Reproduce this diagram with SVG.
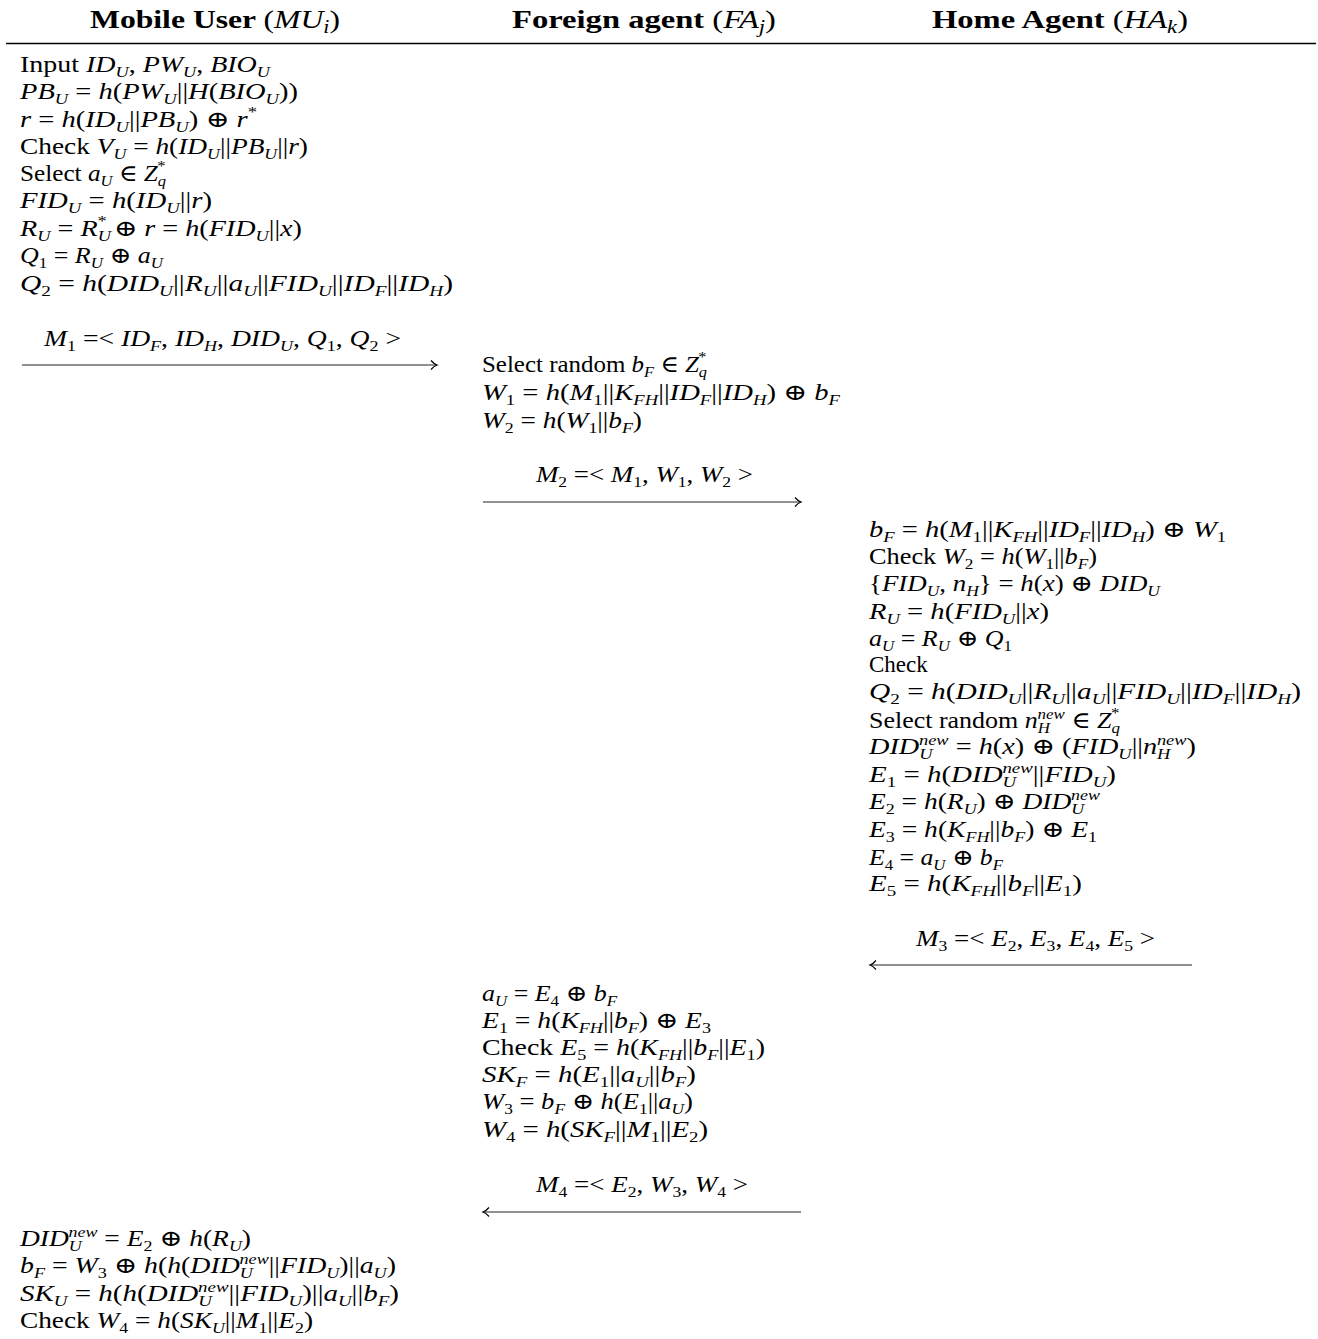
<svg xmlns="http://www.w3.org/2000/svg" width="1318" height="1339" viewBox="0 0 1318 1339">
<defs>
<style>
text{font-family:"Liberation Serif","DejaVu Serif",serif;font-size:23px;fill:#000}
.h{font-weight:bold;font-size:26px}
.hn{font-weight:normal}
.hv{font-weight:normal;font-style:italic}
.hb{font-weight:normal;font-style:italic;font-size:18px;baseline-shift:-5px}
.v{font-style:italic}
.b{font-style:italic;font-size:15px;baseline-shift:-5px}
.n{font-size:15px;baseline-shift:-5px}
.p{font-style:italic;font-size:15px;baseline-shift:9px}
.ps{font-size:15px;baseline-shift:10px}
.conn line{stroke:#222;stroke-width:1.2}
</style>
<marker id="ah" markerWidth="12" markerHeight="12" refX="9" refY="6" orient="auto" markerUnits="userSpaceOnUse">
<path d="M3,1.5 Q6,5 9,6 Q6,7 3,10.5" fill="none" stroke="#000" stroke-width="1.2"/>
</marker>
</defs>
<rect width="1318" height="1339" fill="#fff"/>

<g id="header">
<text class="h" x="215" y="28" text-anchor="middle" textLength="250" lengthAdjust="spacingAndGlyphs">Mobile User <tspan class="hn">(</tspan><tspan class="hv">MU</tspan><tspan class="hb">i</tspan><tspan class="hn">)</tspan></text>
<text class="h" x="644" y="28" text-anchor="middle" textLength="264" lengthAdjust="spacingAndGlyphs">Foreign agent <tspan class="hn">(</tspan><tspan class="hv">FA</tspan><tspan class="hb">j</tspan><tspan class="hn">)</tspan></text>
<text class="h" x="1060" y="28" text-anchor="middle" textLength="256" lengthAdjust="spacingAndGlyphs">Home Agent <tspan class="hn">(</tspan><tspan class="hv">HA</tspan><tspan class="hb">k</tspan><tspan class="hn">)</tspan></text>
<line x1="6" y1="43.5" x2="1316" y2="43.5" stroke="#000" stroke-width="1.3"/>
</g>

<g id="mu-step1">
<text x="20" y="72" textLength="250" lengthAdjust="spacingAndGlyphs">Input <tspan class="v">ID</tspan><tspan class="b">U</tspan>, <tspan class="v">PW</tspan><tspan class="b">U</tspan>, <tspan class="v">BIO</tspan><tspan class="b">U</tspan></text>
<text x="20" y="99" textLength="278" lengthAdjust="spacingAndGlyphs"><tspan class="v">PB</tspan><tspan class="b">U</tspan> = <tspan class="v">h</tspan>(<tspan class="v">PW</tspan><tspan class="b">U</tspan>||<tspan class="v">H</tspan>(<tspan class="v">BIO</tspan><tspan class="b">U</tspan>))</text>
<text x="20" y="127" textLength="237" lengthAdjust="spacingAndGlyphs"><tspan class="v">r</tspan> = <tspan class="v">h</tspan>(<tspan class="v">ID</tspan><tspan class="b">U</tspan>||<tspan class="v">PB</tspan><tspan class="b">U</tspan>) ⊕ <tspan class="v">r</tspan><tspan class="ps">*</tspan></text>
<text x="20" y="154" textLength="288" lengthAdjust="spacingAndGlyphs">Check <tspan class="v">V</tspan><tspan class="b">U</tspan> = <tspan class="v">h</tspan>(<tspan class="v">ID</tspan><tspan class="b">U</tspan>||<tspan class="v">PB</tspan><tspan class="b">U</tspan>||<tspan class="v">r</tspan>)</text>
<text x="20" y="181" textLength="146" lengthAdjust="spacingAndGlyphs">Select <tspan class="v">a</tspan><tspan class="b">U</tspan> ∈ <tspan class="v">Z</tspan><tspan class="b">q</tspan><tspan class="ps" dx="-8">*</tspan></text>
<text x="20" y="208" textLength="192" lengthAdjust="spacingAndGlyphs"><tspan class="v">FID</tspan><tspan class="b">U</tspan> = <tspan class="v">h</tspan>(<tspan class="v">ID</tspan><tspan class="b">U</tspan>||<tspan class="v">r</tspan>)</text>
<text x="20" y="236" textLength="282" lengthAdjust="spacingAndGlyphs"><tspan class="v">R</tspan><tspan class="b">U</tspan> = <tspan class="v">R</tspan><tspan class="b">U</tspan><tspan class="ps" dx="-11">*</tspan> ⊕ <tspan class="v">r</tspan> = <tspan class="v">h</tspan>(<tspan class="v">FID</tspan><tspan class="b">U</tspan>||<tspan class="v">x</tspan>)</text>
<text x="20" y="263" textLength="143" lengthAdjust="spacingAndGlyphs"><tspan class="v">Q</tspan><tspan class="n">1</tspan> = <tspan class="v">R</tspan><tspan class="b">U</tspan> ⊕ <tspan class="v">a</tspan><tspan class="b">U</tspan></text>
<text x="20" y="291" textLength="433" lengthAdjust="spacingAndGlyphs"><tspan class="v">Q</tspan><tspan class="n">2</tspan> = <tspan class="v">h</tspan>(<tspan class="v">DID</tspan><tspan class="b">U</tspan>||<tspan class="v">R</tspan><tspan class="b">U</tspan>||<tspan class="v">a</tspan><tspan class="b">U</tspan>||<tspan class="v">FID</tspan><tspan class="b">U</tspan>||<tspan class="v">ID</tspan><tspan class="b">F</tspan>||<tspan class="v">ID</tspan><tspan class="b">H</tspan>)</text>
</g>

<g id="fa-step1">
<text x="482" y="372" textLength="225" lengthAdjust="spacingAndGlyphs">Select random <tspan class="v">b</tspan><tspan class="b">F</tspan> ∈ <tspan class="v">Z</tspan><tspan class="b">q</tspan><tspan class="ps" dx="-8">*</tspan></text>
<text x="482" y="400" textLength="358" lengthAdjust="spacingAndGlyphs"><tspan class="v">W</tspan><tspan class="n">1</tspan> = <tspan class="v">h</tspan>(<tspan class="v">M</tspan><tspan class="n">1</tspan>||<tspan class="v">K</tspan><tspan class="b">FH</tspan>||<tspan class="v">ID</tspan><tspan class="b">F</tspan>||<tspan class="v">ID</tspan><tspan class="b">H</tspan>) ⊕ <tspan class="v">b</tspan><tspan class="b">F</tspan></text>
<text x="482" y="428" textLength="160" lengthAdjust="spacingAndGlyphs"><tspan class="v">W</tspan><tspan class="n">2</tspan> = <tspan class="v">h</tspan>(<tspan class="v">W</tspan><tspan class="n">1</tspan>||<tspan class="v">b</tspan><tspan class="b">F</tspan>)</text>
</g>

<g id="ha-step">
<text x="869" y="537" textLength="357" lengthAdjust="spacingAndGlyphs"><tspan class="v">b</tspan><tspan class="b">F</tspan> = <tspan class="v">h</tspan>(<tspan class="v">M</tspan><tspan class="n">1</tspan>||<tspan class="v">K</tspan><tspan class="b">FH</tspan>||<tspan class="v">ID</tspan><tspan class="b">F</tspan>||<tspan class="v">ID</tspan><tspan class="b">H</tspan>) ⊕ <tspan class="v">W</tspan><tspan class="n">1</tspan></text>
<text x="869" y="564" textLength="228" lengthAdjust="spacingAndGlyphs">Check <tspan class="v">W</tspan><tspan class="n">2</tspan> = <tspan class="v">h</tspan>(<tspan class="v">W</tspan><tspan class="n">1</tspan>||<tspan class="v">b</tspan><tspan class="b">F</tspan>)</text>
<text x="869" y="591" textLength="291" lengthAdjust="spacingAndGlyphs">{<tspan class="v">FID</tspan><tspan class="b">U</tspan>, <tspan class="v">n</tspan><tspan class="b">H</tspan>} = <tspan class="v">h</tspan>(<tspan class="v">x</tspan>) ⊕ <tspan class="v">DID</tspan><tspan class="b">U</tspan></text>
<text x="869" y="619" textLength="180" lengthAdjust="spacingAndGlyphs"><tspan class="v">R</tspan><tspan class="b">U</tspan> = <tspan class="v">h</tspan>(<tspan class="v">FID</tspan><tspan class="b">U</tspan>||<tspan class="v">x</tspan>)</text>
<text x="869" y="646" textLength="143" lengthAdjust="spacingAndGlyphs"><tspan class="v">a</tspan><tspan class="b">U</tspan> = <tspan class="v">R</tspan><tspan class="b">U</tspan> ⊕ <tspan class="v">Q</tspan><tspan class="n">1</tspan></text>
<text x="869" y="672">Check</text>
<text x="869" y="699" textLength="432" lengthAdjust="spacingAndGlyphs"><tspan class="v">Q</tspan><tspan class="n">2</tspan> = <tspan class="v">h</tspan>(<tspan class="v">DID</tspan><tspan class="b">U</tspan>||<tspan class="v">R</tspan><tspan class="b">U</tspan>||<tspan class="v">a</tspan><tspan class="b">U</tspan>||<tspan class="v">FID</tspan><tspan class="b">U</tspan>||<tspan class="v">ID</tspan><tspan class="b">F</tspan>||<tspan class="v">ID</tspan><tspan class="b">H</tspan>)</text>
<text x="869" y="728" textLength="251" lengthAdjust="spacingAndGlyphs">Select random <tspan class="v">n</tspan><tspan class="b">H</tspan><tspan class="p" dx="-11">new</tspan> ∈ <tspan class="v">Z</tspan><tspan class="b">q</tspan><tspan class="ps" dx="-8">*</tspan></text>
<text x="869" y="754" textLength="327" lengthAdjust="spacingAndGlyphs"><tspan class="v">DID</tspan><tspan class="b">U</tspan><tspan class="p" dx="-11">new</tspan> = <tspan class="v">h</tspan>(<tspan class="v">x</tspan>) ⊕ (<tspan class="v">FID</tspan><tspan class="b">U</tspan>||<tspan class="v">n</tspan><tspan class="b">H</tspan><tspan class="p" dx="-11">new</tspan>)</text>
<text x="869" y="782" textLength="247" lengthAdjust="spacingAndGlyphs"><tspan class="v">E</tspan><tspan class="n">1</tspan> = <tspan class="v">h</tspan>(<tspan class="v">DID</tspan><tspan class="b">U</tspan><tspan class="p" dx="-11">new</tspan>||<tspan class="v">FID</tspan><tspan class="b">U</tspan>)</text>
<text x="869" y="809" textLength="231" lengthAdjust="spacingAndGlyphs"><tspan class="v">E</tspan><tspan class="n">2</tspan> = <tspan class="v">h</tspan>(<tspan class="v">R</tspan><tspan class="b">U</tspan>) ⊕ <tspan class="v">DID</tspan><tspan class="b">U</tspan><tspan class="p" dx="-11">new</tspan></text>
<text x="869" y="837" textLength="228" lengthAdjust="spacingAndGlyphs"><tspan class="v">E</tspan><tspan class="n">3</tspan> = <tspan class="v">h</tspan>(<tspan class="v">K</tspan><tspan class="b">FH</tspan>||<tspan class="v">b</tspan><tspan class="b">F</tspan>) ⊕ <tspan class="v">E</tspan><tspan class="n">1</tspan></text>
<text x="869" y="865" textLength="134" lengthAdjust="spacingAndGlyphs"><tspan class="v">E</tspan><tspan class="n">4</tspan> = <tspan class="v">a</tspan><tspan class="b">U</tspan> ⊕ <tspan class="v">b</tspan><tspan class="b">F</tspan></text>
<text x="869" y="891" textLength="213" lengthAdjust="spacingAndGlyphs"><tspan class="v">E</tspan><tspan class="n">5</tspan> = <tspan class="v">h</tspan>(<tspan class="v">K</tspan><tspan class="b">FH</tspan>||<tspan class="v">b</tspan><tspan class="b">F</tspan>||<tspan class="v">E</tspan><tspan class="n">1</tspan>)</text>
</g>

<g id="fa-step2">
<text x="482" y="1001" textLength="135" lengthAdjust="spacingAndGlyphs"><tspan class="v">a</tspan><tspan class="b">U</tspan> = <tspan class="v">E</tspan><tspan class="n">4</tspan> ⊕ <tspan class="v">b</tspan><tspan class="b">F</tspan></text>
<text x="482" y="1028" textLength="229" lengthAdjust="spacingAndGlyphs"><tspan class="v">E</tspan><tspan class="n">1</tspan> = <tspan class="v">h</tspan>(<tspan class="v">K</tspan><tspan class="b">FH</tspan>||<tspan class="v">b</tspan><tspan class="b">F</tspan>) ⊕ <tspan class="v">E</tspan><tspan class="n">3</tspan></text>
<text x="482" y="1055" textLength="283" lengthAdjust="spacingAndGlyphs">Check <tspan class="v">E</tspan><tspan class="n">5</tspan> = <tspan class="v">h</tspan>(<tspan class="v">K</tspan><tspan class="b">FH</tspan>||<tspan class="v">b</tspan><tspan class="b">F</tspan>||<tspan class="v">E</tspan><tspan class="n">1</tspan>)</text>
<text x="482" y="1082" textLength="214" lengthAdjust="spacingAndGlyphs"><tspan class="v">SK</tspan><tspan class="b">F</tspan> = <tspan class="v">h</tspan>(<tspan class="v">E</tspan><tspan class="n">1</tspan>||<tspan class="v">a</tspan><tspan class="b">U</tspan>||<tspan class="v">b</tspan><tspan class="b">F</tspan>)</text>
<text x="482" y="1109" textLength="211" lengthAdjust="spacingAndGlyphs"><tspan class="v">W</tspan><tspan class="n">3</tspan> = <tspan class="v">b</tspan><tspan class="b">F</tspan> ⊕ <tspan class="v">h</tspan>(<tspan class="v">E</tspan><tspan class="n">1</tspan>||<tspan class="v">a</tspan><tspan class="b">U</tspan>)</text>
<text x="482" y="1137" textLength="226" lengthAdjust="spacingAndGlyphs"><tspan class="v">W</tspan><tspan class="n">4</tspan> = <tspan class="v">h</tspan>(<tspan class="v">SK</tspan><tspan class="b">F</tspan>||<tspan class="v">M</tspan><tspan class="n">1</tspan>||<tspan class="v">E</tspan><tspan class="n">2</tspan>)</text>
</g>

<g id="mu-step2">
<text x="20" y="1246" textLength="231" lengthAdjust="spacingAndGlyphs"><tspan class="v">DID</tspan><tspan class="b">U</tspan><tspan class="p" dx="-11">new</tspan> = <tspan class="v">E</tspan><tspan class="n">2</tspan> ⊕ <tspan class="v">h</tspan>(<tspan class="v">R</tspan><tspan class="b">U</tspan>)</text>
<text x="20" y="1273" textLength="376" lengthAdjust="spacingAndGlyphs"><tspan class="v">b</tspan><tspan class="b">F</tspan> = <tspan class="v">W</tspan><tspan class="n">3</tspan> ⊕ <tspan class="v">h</tspan>(<tspan class="v">h</tspan>(<tspan class="v">DID</tspan><tspan class="b">U</tspan><tspan class="p" dx="-11">new</tspan>||<tspan class="v">FID</tspan><tspan class="b">U</tspan>)||<tspan class="v">a</tspan><tspan class="b">U</tspan>)</text>
<text x="20" y="1301" textLength="379" lengthAdjust="spacingAndGlyphs"><tspan class="v">SK</tspan><tspan class="b">U</tspan> = <tspan class="v">h</tspan>(<tspan class="v">h</tspan>(<tspan class="v">DID</tspan><tspan class="b">U</tspan><tspan class="p" dx="-11">new</tspan>||<tspan class="v">FID</tspan><tspan class="b">U</tspan>)||<tspan class="v">a</tspan><tspan class="b">U</tspan>||<tspan class="v">b</tspan><tspan class="b">F</tspan>)</text>
<text x="20" y="1328" textLength="293" lengthAdjust="spacingAndGlyphs">Check <tspan class="v">W</tspan><tspan class="n">4</tspan> = <tspan class="v">h</tspan>(<tspan class="v">SK</tspan><tspan class="b">U</tspan>||<tspan class="v">M</tspan><tspan class="n">1</tspan>||<tspan class="v">E</tspan><tspan class="n">2</tspan>)</text>
</g>

<g id="connectors" class="conn">
<line x1="22" y1="365" x2="437" y2="365" marker-end="url(#ah)"/>
<text x="222.5" y="346" text-anchor="middle" textLength="357" lengthAdjust="spacingAndGlyphs"><tspan class="v">M</tspan><tspan class="n">1</tspan> =&lt; <tspan class="v">ID</tspan><tspan class="b">F</tspan>, <tspan class="v">ID</tspan><tspan class="b">H</tspan>, <tspan class="v">DID</tspan><tspan class="b">U</tspan>, <tspan class="v">Q</tspan><tspan class="n">1</tspan>, <tspan class="v">Q</tspan><tspan class="n">2</tspan> &gt;</text>
<line x1="483" y1="502" x2="801" y2="502" marker-end="url(#ah)"/>
<text x="644.5" y="482" text-anchor="middle" textLength="217" lengthAdjust="spacingAndGlyphs"><tspan class="v">M</tspan><tspan class="n">2</tspan> =&lt; <tspan class="v">M</tspan><tspan class="n">1</tspan>, <tspan class="v">W</tspan><tspan class="n">1</tspan>, <tspan class="v">W</tspan><tspan class="n">2</tspan> &gt;</text>
<line x1="1192" y1="965" x2="870" y2="965" marker-end="url(#ah)"/>
<text x="1035.5" y="946" text-anchor="middle" textLength="239" lengthAdjust="spacingAndGlyphs"><tspan class="v">M</tspan><tspan class="n">3</tspan> =&lt; <tspan class="v">E</tspan><tspan class="n">2</tspan>, <tspan class="v">E</tspan><tspan class="n">3</tspan>, <tspan class="v">E</tspan><tspan class="n">4</tspan>, <tspan class="v">E</tspan><tspan class="n">5</tspan> &gt;</text>
<line x1="801" y1="1212" x2="483" y2="1212" marker-end="url(#ah)"/>
<text x="642" y="1192" text-anchor="middle" textLength="212" lengthAdjust="spacingAndGlyphs"><tspan class="v">M</tspan><tspan class="n">4</tspan> =&lt; <tspan class="v">E</tspan><tspan class="n">2</tspan>, <tspan class="v">W</tspan><tspan class="n">3</tspan>, <tspan class="v">W</tspan><tspan class="n">4</tspan> &gt;</text>
</g>
</svg>
